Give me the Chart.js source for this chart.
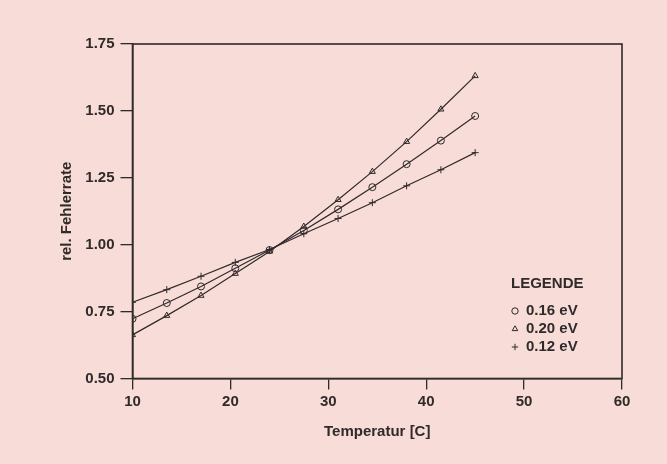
<!DOCTYPE html>
<html>
<head>
<meta charset="utf-8">
<script src="https://cdn.jsdelivr.net/npm/chart.js@4/dist/chart.umd.min.js"></script>
<style>
  html, body { margin: 0; padding: 0; background: #f7dcd7; }
  #wrap { width: 667px; height: 464px; }
</style>
</head>
<body>
<div id="wrap"><canvas id="c" width="667" height="464"></canvas></div>
<script>
const temps = [10, 13.5, 17, 20.5, 24, 27.5, 31, 34.5, 38, 41.5, 45];
const e016 = [0.723, 0.782, 0.844, 0.912, 0.980, 1.053, 1.132, 1.215, 1.301, 1.389, 1.481];
const e020 = [0.663, 0.735, 0.810, 0.892, 0.975, 1.068, 1.168, 1.273, 1.385, 1.506, 1.631];
const e012 = [0.785, 0.832, 0.882, 0.934, 0.982, 1.041, 1.098, 1.157, 1.220, 1.280, 1.344];
const seriesLabels = ['0.16 eV', '0.20 eV', '0.12 eV'];
const seriesMarkers = ['circle', 'triangle', 'cross'];
const legendTitle = 'LEGENDE';
const xTitle = 'Temperatur [C]';
const yTitle = 'rel. Fehlerrate';

const ink = '#302a2a';
const bg = '#f7dcd7';
const font = { family: '"Liberation Sans", Arial, sans-serif', size: 15, weight: 'bold' };

function toPoints(vals) { return temps.map((t, i) => ({ x: t, y: vals[i] })); }

const datasets = [e016, e020, e012].map((vals, i) => ({
  label: seriesLabels[i],
  data: toPoints(vals),
  borderColor: ink,
  borderWidth: 1.2,
  backgroundColor: 'rgba(0,0,0,0)',
  pointStyle: seriesMarkers[i],
  pointRadius: 3.5,
  pointBorderWidth: 1,
  pointBorderColor: ink,
  pointBackgroundColor: 'rgba(0,0,0,0)',
  tension: 0
}));

const bgPlugin = {
  id: 'bgfill',
  beforeDraw(chart) {
    const ctx = chart.ctx;
    ctx.save();
    ctx.fillStyle = bg;
    ctx.fillRect(0, 0, chart.width, chart.height);
    ctx.restore();
  }
};

const framePlugin = {
  id: 'frame',
  afterDraw(chart) {
    const { ctx, chartArea: a } = chart;
    ctx.save();
    ctx.strokeStyle = ink;
    ctx.lineWidth = 1.6;
    ctx.strokeRect(a.left, a.top, a.right - a.left, a.bottom - a.top);
    ctx.restore();
  }
};

const legendPlugin = {
  id: 'customLegend',
  afterDraw(chart) {
    const ctx = chart.ctx;
    ctx.save();
    ctx.font = 'bold 15px "Liberation Sans", Arial, sans-serif';
    ctx.textBaseline = 'middle';
    ctx.textAlign = 'left';
    ctx.fillStyle = ink;
    ctx.fillText(legendTitle, 511, 284);
    chart.data.datasets.forEach((ds, i) => {
      const y = 311 + i * 18;
      ctx.fillStyle = 'rgba(0,0,0,0)';
      ctx.strokeStyle = ink;
      ctx.lineWidth = 1;
      Chart.helpers.drawPoint(ctx, {
        pointStyle: ds.pointStyle, radius: 3.2, borderWidth: 1
      }, 515, y);
      ctx.fillStyle = ink;
      ctx.fillText(ds.label, 526, y);
    });
    ctx.restore();
  }
};

new Chart(document.getElementById('c'), {
  type: 'line',
  data: { datasets },
  options: {
    responsive: false,
    animation: false,
    layout: { padding: { left: 0, top: 44, right: 45, bottom: 0 } },
    plugins: { legend: { display: false }, tooltip: { enabled: false } },
    scales: {
      x: {
        type: 'linear',
        min: 10, max: 60,
        afterFit(s) { s.height = 464 - 44 - 334.5; },
        ticks: { stepSize: 10, color: ink, font, padding: 3, maxRotation: 0 },
        grid: { drawOnChartArea: false, drawTicks: true, tickLength: 11, color: ink, lineWidth: 1.3 },
        border: { display: true, color: ink, width: 1.6 },
        title: { display: true, text: xTitle, color: ink, font, padding: 23 }
      },
      y: {
        type: 'linear',
        min: 0.5, max: 1.75,
        afterFit(s) { s.width = 132.5; },
        ticks: { stepSize: 0.25, color: ink, font, padding: 6, callback: v => v.toFixed(2) },
        grid: { drawOnChartArea: false, drawTicks: true, tickLength: 12, color: ink, lineWidth: 1.3 },
        border: { display: true, color: ink, width: 1.6 },
        title: { display: true, text: yTitle, color: ink, font, padding: 58 }
      }
    }
  },
  plugins: [bgPlugin, framePlugin, legendPlugin]
});
</script>
</body>
</html>
